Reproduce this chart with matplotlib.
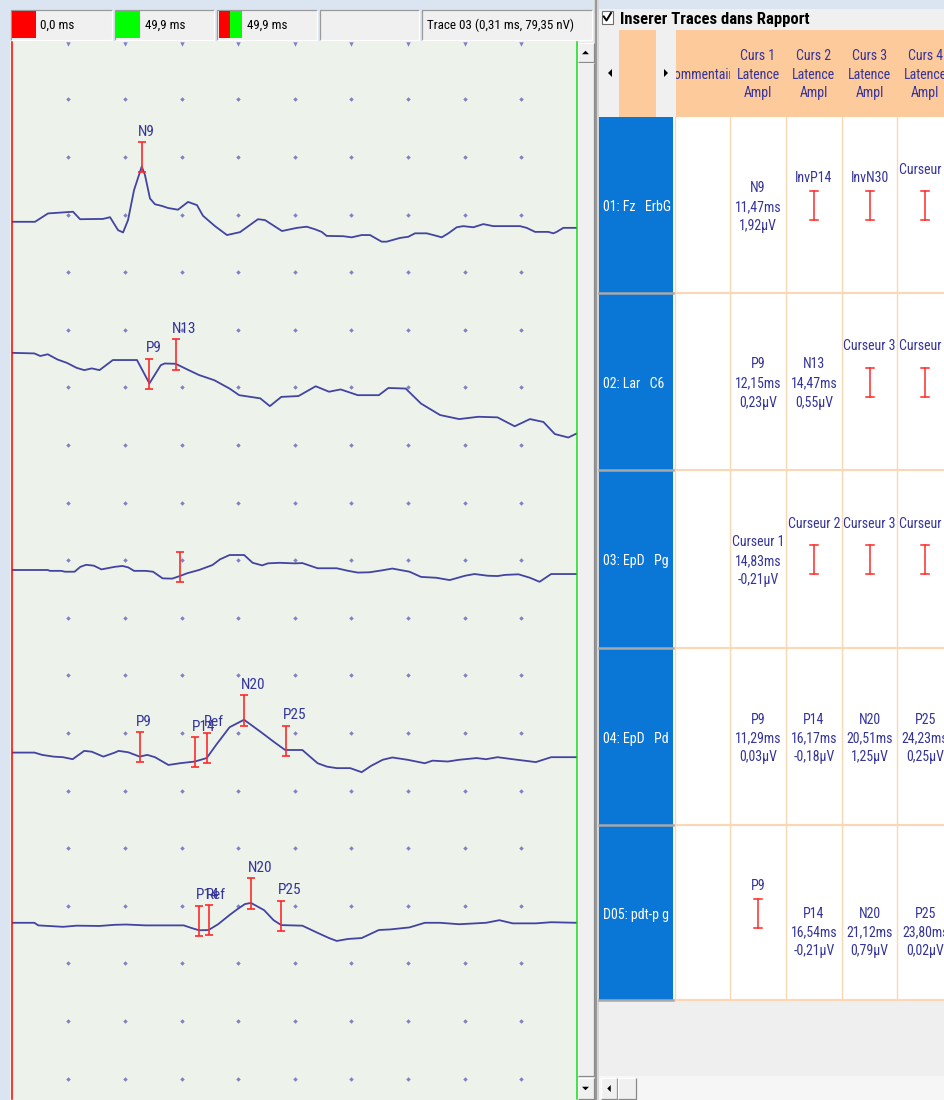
import numpy as np
import matplotlib
matplotlib.use("Agg")
import matplotlib.pyplot as plt
from matplotlib import font_manager as fm
from matplotlib.patches import Rectangle, Polygon

# ---------------------------------------------------------------- data
SWEEP_MS = 49.9          # sweep length
DIV_MS = 5.0             # horizontal grid step
DIV_UV = 2.0             # vertical grid step

# traces: latency (ms) / amplitude (uV, relative to sweep start)
t1_ms = [0.00, 2.04, 3.19, 5.40, 6.02, 8.05, 8.67, 9.38, 9.82, 10.26, 10.79, 11.47, 11.76, 12.20, 12.64,
         13.26, 13.79, 14.67, 15.56, 16.35, 16.88, 17.94, 19.00, 20.15, 21.74, 22.36, 23.86, 25.19, 26.05,
         26.78, 27.37, 27.81, 29.28, 30.02, 30.90, 31.64, 32.17, 32.67, 33.11, 34.29, 35.02, 35.61, 36.65,
         37.53, 37.97, 38.56, 39.30, 39.88, 40.77, 41.65, 42.53, 44.89, 45.48, 46.22, 47.39, 47.83, 48.13,
         48.72, 49.90]
t1_uv = [0.00, 0.00, 0.29, 0.35, 0.09, 0.10, 0.16, -0.29, -0.37, 0.06, 1.10, 1.92, 1.62, 0.81, 0.61,
         0.55, 0.48, 0.42, 0.69, 0.58, 0.21, -0.15, -0.46, -0.36, 0.09, 0.06, -0.32, -0.21, -0.17,
         -0.26, -0.35, -0.49, -0.50, -0.54, -0.46, -0.46, -0.58, -0.69, -0.69, -0.56, -0.52, -0.40, -0.40,
         -0.49, -0.54, -0.40, -0.19, -0.15, -0.19, -0.08, -0.15, -0.15, -0.21, -0.35, -0.35, -0.40, -0.35,
         -0.21, -0.21]

t2_ms = [0.00, 1.99, 2.50, 3.17, 4.02, 4.87, 5.71, 6.39, 7.06, 7.74, 8.92, 11.05, 12.15, 13.15, 13.49,
         14.47, 15.51, 16.53, 17.88, 19.23, 20.08, 21.94, 22.79, 23.80, 25.32, 26.84, 28.02, 29.04, 30.56,
         32.42, 33.26, 34.79, 36.14, 37.83, 39.52, 41.22, 42.90, 44.42, 45.77, 46.96, 47.97, 49.16, 49.90]
t2_uv = [0.00, -0.02, -0.11, -0.05, -0.23, -0.35, -0.52, -0.60, -0.54, -0.60, -0.25, -0.25, -1.06, -0.43,
         -0.37, -0.38, -0.58, -0.77, -0.95, -1.24, -1.47, -1.58, -1.85, -1.53, -1.50, -1.16, -1.35, -1.27,
         -1.47, -1.47, -1.22, -1.24, -1.76, -2.16, -2.30, -2.22, -2.24, -2.55, -2.30, -2.40, -2.82, -2.94,
         -2.80]

t3_ms = [0.00, 3.17, 3.35, 4.36, 4.69, 5.54, 6.05, 6.56, 7.24, 7.91, 8.42, 9.09, 9.77, 10.28, 10.79,
         11.79, 12.47, 13.31, 14.16, 14.83, 15.51, 16.53, 17.71, 18.39, 19.23, 20.52, 21.27, 22.11, 22.62,
         23.63, 24.99, 25.66, 27.01, 28.70, 29.72, 30.56, 31.58, 32.59, 33.61, 35.13, 36.14, 37.50, 38.68,
         40.03, 40.87, 42.05, 42.90, 43.58, 44.76, 45.77, 46.62, 47.64, 49.90]
t3_uv = [0.00, 0.00, -0.03, -0.03, -0.06, -0.06, 0.11, 0.18, 0.15, 0.02, 0.06, 0.11, 0.14, 0.09, -0.03,
         -0.03, -0.06, -0.29, -0.30, -0.21, -0.11, 0.00, 0.17, 0.37, 0.52, 0.52, 0.25, 0.16, 0.23,
         0.25, 0.23, 0.24, 0.06, 0.06, -0.03, -0.09, -0.08, -0.02, 0.05, -0.06, -0.24, -0.27, -0.35,
         -0.20, -0.14, -0.20, -0.21, -0.17, -0.15, -0.27, -0.41, -0.14, -0.14]

t4_ms = [0.00, 1.99, 2.67, 3.68, 4.52, 5.37, 6.39, 7.06, 8.08, 9.09, 9.43, 10.28, 11.29, 11.96, 12.64,
         13.83, 14.84, 16.17, 17.21, 18.05, 19.23, 20.51, 21.94, 23.29, 24.14, 25.66, 27.01, 27.86, 28.70,
         29.89, 30.90, 31.74, 32.76, 33.61, 34.96, 36.48, 37.16, 38.51, 39.52, 41.05, 41.89, 42.90, 44.25,
         45.27, 46.29, 47.64, 49.90]
t4_uv = [0.00, 0.00, -0.08, -0.14, -0.16, -0.23, 0.06, 0.03, -0.14, 0.00, 0.06, 0.01, -0.14, -0.08, -0.16,
         -0.43, -0.37, -0.31, -0.19, 0.27, 0.88, 1.14, 0.73, 0.33, 0.09, 0.09, -0.37, -0.49, -0.54,
         -0.54, -0.68, -0.46, -0.25, -0.17, -0.25, -0.37, -0.28, -0.31, -0.25, -0.19, -0.23, -0.16, -0.23,
         -0.28, -0.33, -0.16, -0.16]

t5_ms = [0.00, 1.99, 2.33, 4.52, 5.71, 7.74, 9.09, 10.11, 11.79, 15.18, 15.86, 16.54, 17.38, 18.22, 19.23,
         19.91, 20.59, 21.12, 22.28, 23.12, 23.80, 25.66, 27.01, 28.02, 28.70, 29.72, 30.90, 32.42, 33.44,
         35.13, 36.48, 37.83, 39.52, 41.89, 43.07, 44.25, 46.29, 47.64, 49.90]
t5_uv = [0.00, 0.00, -0.09, -0.14, -0.10, -0.11, -0.07, -0.06, -0.09, -0.09, -0.18, -0.26, -0.25, -0.05, 0.27,
         0.47, 0.65, 0.69, 0.44, 0.09, -0.08, -0.10, -0.35, -0.53, -0.63, -0.56, -0.53, -0.25, -0.23,
         -0.16, 0.00, 0.00, -0.05, 0.00, 0.09, -0.02, -0.02, 0.02, 0.00]

traces_ms = [t1_ms, t2_ms, t3_ms, t4_ms, t5_ms]
traces_uv = [t1_uv, t2_uv, t3_uv, t4_uv, t5_uv]

# channel names
channels = ["01: Fz   ErbG", "02: Lar   C6", "03: EpD   Pg", "04: EpD   Pd", "D05: pdt-p g"]

# cursor table: name / latency (ms) / amplitude (uV); None = cursor not placed
cursor_names = [["N9", "InvP14", "InvN30", "Curseur 4"],
                ["P9", "N13", "Curseur 3", "Curseur 4"],
                ["Curseur 1", "Curseur 2", "Curseur 3", "Curseur 4"],
                ["P9", "P14", "N20", "P25"],
                ["P9", "P14", "N20", "P25"]]
cursor_lat = [[11.47, None, None, None],
              [12.15, 14.47, None, None],
              [14.83, None, None, None],
              [11.29, 16.17, 20.51, 24.23],
              [None, 16.54, 21.12, 23.80]]
cursor_amp = [[1.92, None, None, None],
              [0.23, 0.55, None, None],
              [-0.21, None, None, None],
              [0.03, -0.18, 1.25, 0.25],
              [None, -0.21, 0.79, 0.02]]
# reference cursor per channel (ms)
ref_lat = [None, None, None, 17.27, 17.43]

# header read-outs
readouts = ["0,0 ms", "49,9 ms", "49,9 ms", "", "Trace 03 (0,31 ms, 79,35 nV)"]
col_titles = ["Curs 1", "Curs 2", "Curs 3", "Curs 4"]


# ---------------------------------------------------------------- fonts
def pick_narrow_font():
    """Return (text kwargs, size factor) for a narrow sans-serif face."""
    fonts = fm.fontManager.ttflist
    names = {f.name for f in fonts}
    for fam in ("Liberation Sans Narrow", "Arial Narrow", "Roboto Condensed",
                "Open Sans Condensed", "Noto Sans Condensed", "DejaVu Sans Condensed"):
        if fam in names:
            return dict(family=[fam, "DejaVu Sans"]), 1.0
    for fam in ("Noto Sans", "DejaVu Sans", "Open Sans", "Roboto"):
        for f in fonts:
            st = f.stretch
            if f.name == fam and (st in ("condensed", "semi-condensed", "extra-condensed")
                                  or (isinstance(st, int) and st < 500)):
                return dict(family=[fam], stretch=st), 1.0
    return dict(family=["Liberation Sans", "DejaVu Sans"]), 0.86


NARROW, SCALE = pick_narrow_font()
FS = 10 * SCALE

# ---------------------------------------------------------------- style
W, H = 945, 1100
TRACE_C = "#4343a1"
TEXT_C = "#34349a"
RED = "#ff2a2a"
PANEL = "#f0f0f0"
FRAME_BLUE = "#dbe5f1"
SWEEP_BG = "#edf3eb"
ORANGE = "#fdca9c"
GRID_LINE = "#fcd7b4"
BLUE = "#0a76d6"

fig = plt.figure(figsize=(W / 100, H / 100), dpi=100)
fig.patch.set_facecolor(PANEL)
ui = fig.add_axes([0, 0, 1, 1])
ui.set_xlim(0, W)
ui.set_ylim(H, 0)
ui.axis('off')


def label(x, y, s, size=FS, color=TEXT_C, ha='center', z=5, **kw):
    return ui.text(x, y, s, fontsize=size, color=color, ha=ha, va='center', zorder=z, **NARROW, **kw)


def rect(x0, y0, x1, y1, fc, ec='none', lw=0.0, z=1):
    ui.add_patch(Rectangle((x0, y0), x1 - x0, y1 - y0, facecolor=fc, edgecolor=ec, lw=lw, zorder=z))


def bevel(x0, y0, x1, y1, raised=True, z=3):
    light, dark = ("#ffffff", "#8a8a8a") if raised else ("#9a9a9a", "#ffffff")
    ui.plot([x0, x0, x1], [y1, y0, y0], color=light, lw=0.9, zorder=z, solid_capstyle='butt')
    ui.plot([x0, x1, x1], [y1, y1, y0], color=dark, lw=0.9, zorder=z, solid_capstyle='butt')


def tri(cx, cy, direction, size=4.0, z=4):
    s = size
    if direction == 'up':
        pts = [(cx - s, cy + s / 2), (cx + s, cy + s / 2), (cx, cy - s / 2)]
    elif direction == 'down':
        pts = [(cx - s, cy - s / 2), (cx + s, cy - s / 2), (cx, cy + s / 2)]
    elif direction == 'left':
        pts = [(cx + s / 2, cy - s), (cx + s / 2, cy + s), (cx - s / 2, cy)]
    else:
        pts = [(cx - s / 2, cy - s), (cx - s / 2, cy + s), (cx + s / 2, cy)]
    ui.add_patch(Polygon(pts, closed=True, facecolor='black', edgecolor='none', zorder=z))


def ibar(x, y0, y1, z=5):
    ui.plot([x, x], [y0, y1], color=RED, lw=1.1, zorder=z)
    ui.plot([x - 4, x + 4], [y0, y0], color=RED, lw=1.1, zorder=z)
    ui.plot([x - 4, x + 4], [y1, y1], color=RED, lw=1.1, zorder=z)


# ---------------------------------------------------------------- window frame
rect(0, 0, W, 9, FRAME_BLUE)
rect(0, 0, 10, H, FRAME_BLUE)
rect(0, 0, 598, 41, FRAME_BLUE)

# header read-out boxes
boxes = [(10.7, 112), (114.8, 214.3), (217.4, 316.9), (319.6, 419), (421.7, 592.4)]
for (bx0, bx1), txt in zip(boxes, readouts):
    rect(bx0, 9.5, bx1, 39.5, PANEL, z=2)
    bevel(bx0, 9.5, bx1, 39.5, raised=False)
rect(11.9, 11, 35.6, 37.7, "#ff0000", z=3)
rect(116, 11, 139.7, 37.7, "#00ff00", z=3)
rect(218.5, 11, 230, 37.7, "#ff0000", z=3)
rect(230, 11, 241.9, 37.7, "#00ff00", z=3)
text_x = [40.2, 144.7, 246.8, 0, 426.7]
for tx, txt in zip(text_x, readouts):
    if txt:
        label(tx, 25, txt, size=9.4 * SCALE, color='black', ha='left')

# ---------------------------------------------------------------- sweep area
X0, X1 = 11.9, 576.7
Y0, Y1 = 41.8, 1099.0
PX_PER_UV = 57.6 / DIV_UV
rect(10, Y0, 577.5, H, SWEEP_BG, z=1)

sweep = fig.add_axes([X0 / W, 1 - Y1 / H, (X1 - X0) / W, (Y1 - Y0) / H])
sweep.set_xlim(0, SWEEP_MS)
sweep.set_ylim(-(Y1 - Y0) / PX_PER_UV, 0)
sweep.axis('off')

# vertical position (uV) of each channel's zero on the screen
trace_zero = [-6.25, -10.80, -18.34, -24.68, -30.59]

# grid dots
gx = np.arange(1, 10) * DIV_MS
gy = -np.arange(1, 19) * DIV_UV
GX, GY = np.meshgrid(gx, gy)
sweep.plot(GX.ravel(), GY.ravel(), ls='none', marker='D', ms=2.3, color="#8080c4", mew=0)
sweep.plot(gx, np.zeros_like(gx) - 0.06, ls='none', marker='v', ms=3.2, color="#8080c4", mew=0,
           clip_on=False)

# cursors at sweep start / end
sweep.axvline(0, color="#ff0000", lw=1.1, clip_on=False, zorder=6)
sweep.axvline(SWEEP_MS, color="#10e010", lw=1.1, clip_on=False, zorder=6)

# traces
for ms, uv, z0 in zip(traces_ms, traces_uv, trace_zero):
    sweep.plot(ms, np.array(uv) + z0, color=TRACE_C, lw=1.3, zorder=4, solid_joinstyle='round')

# cursor bars on the traces
BAR_LO, BAR_HI = 0.2, 0.85
for i in range(5):
    ms = np.array(traces_ms[i])
    uv = np.array(traces_uv[i])
    marks = []
    for name, lat in zip(cursor_names[i], cursor_lat[i]):
        if lat is not None:
            marks.append(("" if name.startswith("Curseur") else name, lat))
    if ref_lat[i] is not None:
        marks.append(("Ref", ref_lat[i]))
    for name, lat in marks:
        y = np.interp(lat, ms, uv) + trace_zero[i]
        sweep.errorbar([lat], [y], yerr=[[BAR_LO], [BAR_HI]], fmt='none', ecolor=RED,
                       elinewidth=1.2, capsize=3.2, capthick=1.2, zorder=5)
        if name:
            sweep.annotate(name, (lat, y + BAR_HI), xytext=(-2.5, 2.5), textcoords='offset points',
                           ha='left', va='bottom', fontsize=11 * SCALE, color=TEXT_C, zorder=6, **NARROW)

# vertical scrollbar
rect(577.5, Y0, 594, H, "#e9e9e9", z=2)
rect(577.5, 62.5, 593.5, 1076, "#f0f0f0", z=2)
bevel(577.5, 62.5, 593.5, 1076)
rect(577.5, 42.5, 593.5, 62, "#f0f0f0", z=2)
bevel(577.5, 42.5, 593.5, 62)
tri(585.5, 52.5, 'up', 3.5)
rect(577.5, 1078, 593.5, 1098.5, "#f0f0f0", z=2)
bevel(577.5, 1078, 593.5, 1098.5)
tri(585.5, 1088.5, 'down', 3.5)
# splitter
rect(594, 0, 599, H, "#d6d6d6", z=2)
ui.plot([596.3, 596.3], [0, H], color="#8c8c8c", lw=1.2, zorder=3)

# ---------------------------------------------------------------- cursor table
rect(599, 0, W, 9, FRAME_BLUE)
# checkbox + title
rect(601.5, 10.5, 613, 23.5, "white", ec="#6f6f6f", lw=0.8, z=3)
ui.plot([603.8, 606.5, 611], [16.5, 20.5, 13], color='black', lw=1.4, zorder=4)
label(619.5, 19.5, "Inserer Traces dans Rapport", size=12 * SCALE, color='black', ha='left',
      fontweight='bold')

# header row
HY0, HY1 = 30, 117
rect(619, HY0, 655.7, HY1, ORANGE, z=2)
rect(675, HY0, W, HY1, ORANGE, z=2)
col_edges = [675, 730, 786, 841.7, 897.3, 953]
col_cx = [(a + b) / 2 for a, b in zip(col_edges[:-1], col_edges[1:])]
# the comment title is wider than its column: its overflow is hidden by the neighbouring cells
label(col_cx[0], 75, "Commentaire", z=4)
rect(655.7, HY0, 675.5, HY1, PANEL, z=4.2)
rect(729.5, HY0, 739, HY1, ORANGE, z=4.2)
tri(610, 73, 'left', 4, z=4.5)
tri(666, 73, 'right', 4, z=4.5)
for cx, title in zip(col_cx[1:], col_titles):
    for dy, line in zip((-18.5, 0, 18.5), (title, "Latence", "Ampl")):
        label(cx, 75 + dy, line)

# body
row_edges = [117, 293, 470, 648, 825, 1000]
rect(599.3, 117, 673.3, 1000, BLUE, z=2)
rect(674, 117, W, 1000, "white", z=2)
for x in col_edges[:-1]:
    ui.plot([x, x], [117, 1000], color=GRID_LINE, lw=1.0, zorder=3)
for y in row_edges[1:]:
    ui.plot([674, W], [y, y], color=GRID_LINE, lw=1.5, zorder=3)
    ui.plot([599.3, 673.3], [y, y], color="#a8a8a8", lw=1.8, zorder=3)

for r in range(5):
    yc = (row_edges[r] + row_edges[r + 1]) / 2
    label(603, yc + 2, channels[r], color='white', ha='left')
    for c in range(4):
        cx = col_cx[c + 1]
        name, lat, amp = cursor_names[r][c], cursor_lat[r][c], cursor_amp[r][c]
        if lat is None:
            ly = yc - (35 if name.startswith("Curseur") else 27)
            label(cx, ly, name)
            ibar(cx, yc - 14, yc + 15)
        else:
            tyc = yc + (20 if r == 4 else 2)
            lines = [name, f"{lat:.2f}".replace('.', ',') + "ms", f"{amp:.2f}".replace('.', ',') + "µV"]
            for dy, line in zip((-19, 0, 19), lines):
                label(cx, tyc + dy, line)

# bottom part and horizontal scrollbar
rect(599, 1000, W, 1076, "#efefef", z=2)
rect(599, 1076, W, H, "#f6f6f6", z=2)
rect(601, 1078, 617, 1098.5, "#f0f0f0", z=3)
bevel(601, 1078, 617, 1098.5, z=4)
tri(609, 1088.5, 'left', 3.5, z=5)
rect(617.5, 1078, 636, 1098.5, "#f0f0f0", z=3)
bevel(617.5, 1078, 636, 1098.5, z=4)

fig.savefig("out.png", dpi=100, facecolor=fig.get_facecolor())
